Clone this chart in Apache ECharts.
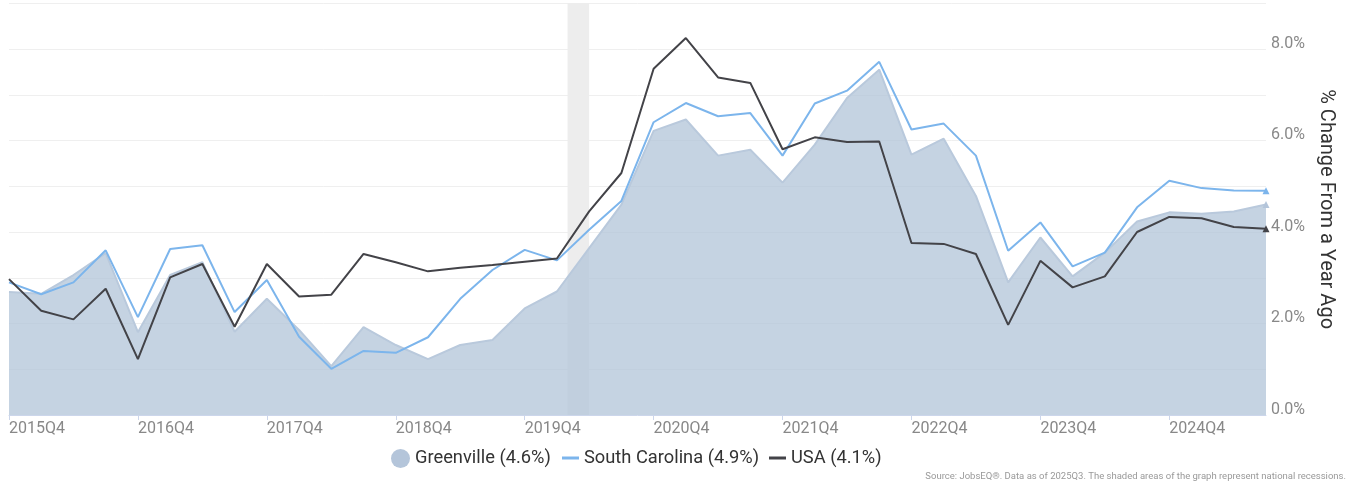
<!DOCTYPE html>
<html>
<head>
<meta charset="utf-8">
<script src="https://cdn.jsdelivr.net/npm/echarts@6/dist/echarts.min.js"></script>
<style>
html,body{margin:0;padding:0;background:#fff;}
#chart{width:1349px;height:482px;}
</style>
</head>
<body>
<div id="chart"></div>
<script>
const quarters = [];
(function(){ let y=2015,q=4; for(let i=0;i<40;i++){ quarters.push(y+'Q'+q); q++; if(q>4){q=1;y++;} } })();

const greenville = [2.69,2.65,3.06,3.54,1.81,3.06,3.34,1.82,2.54,1.86,1.07,1.92,1.53,1.22,1.53,1.64,2.33,2.70,3.65,4.60,6.21,6.46,5.67,5.80,5.08,5.91,6.93,7.55,5.69,6.04,4.79,2.90,3.88,3.03,3.55,4.23,4.43,4.40,4.45,4.60];
const southCarolina = [2.90,2.64,2.90,3.60,2.14,3.63,3.71,2.25,2.95,1.71,1.01,1.40,1.36,1.70,2.54,3.17,3.61,3.38,4.05,4.68,6.40,6.82,6.53,6.60,5.67,6.81,7.09,7.72,6.24,6.37,5.67,3.59,4.21,3.25,3.55,4.54,5.12,4.96,4.91,4.90];
const usa = [2.97,2.28,2.09,2.76,1.22,3.01,3.30,1.93,3.30,2.59,2.63,3.52,3.34,3.14,3.22,3.28,3.35,3.42,4.45,5.29,7.57,8.24,7.38,7.26,5.81,6.07,5.97,5.98,3.76,3.74,3.52,1.97,3.37,2.79,3.03,4.00,4.33,4.30,4.11,4.07];
const seriesNames = ['Greenville (4.6%)','South Carolina (4.9%)','USA (4.1%)'];
const recession = [17.33, 18.0];
const yTicks = [0,2,4,6,8];

const pairs = arr => arr.map((v,i)=>[i,v]);
const lastIdx = quarters.length-1;
const endSym = (v,p)=> p.dataIndex===lastIdx ? 7 : 0;
const labelTicks = quarters.map((q,i)=>i).filter(i=>quarters[i].endsWith('Q4'));
const legText = {color:'#333',fontSize:18.3,fontFamily:'Roboto'};

const chart = echarts.init(document.getElementById('chart'), null, {renderer:'canvas'});
chart.setOption({
  animation:false,
  textStyle:{fontFamily:'Roboto'},
  grid:{left:9,right:83,top:3.3,bottom:67,containLabel:false},
  xAxis:{
    type:'value', min:0, max:lastIdx,
    axisLine:{show:true,lineStyle:{color:'#ccd6eb',width:1}},
    axisTick:{show:true,length:5,lineStyle:{color:'#ccd6eb'},customValues:labelTicks},
    axisLabel:{customValues:labelTicks,formatter:v=>quarters[Math.round(v)]||'',align:'left',color:'#888',fontSize:16,margin:6,fontFamily:'Roboto'},
    splitLine:{show:false}
  },
  yAxis:{
    type:'value', position:'right', min:0, max:9, interval:1,
    axisLine:{show:false}, axisTick:{show:false},
    splitLine:{lineStyle:{color:'#efefef',width:1}},
    axisLabel:{formatter:v=> yTicks.includes(v) ? v.toFixed(1)+'%' : '', color:'#888',fontSize:16,lineHeight:11,margin:5,verticalAlign:'bottom',fontFamily:'Roboto'},
    name:'% Change From a Year Ago', nameLocation:'middle', nameRotate:-90, nameGap:42,
    nameTextStyle:{color:'#333',fontSize:20,fontFamily:'Roboto'}
  },
  legend:[
    {data:[{name:seriesNames[0],icon:'circle'}],left:391,top:449,padding:0,itemWidth:19,itemHeight:19,textStyle:legText},
    {data:[{name:seriesNames[1],icon:'rect'}],left:562,top:449,padding:0,itemWidth:17,itemHeight:3,textStyle:legText},
    {data:[{name:seriesNames[2],icon:'rect'}],left:769,top:449,padding:0,itemWidth:17,itemHeight:3,textStyle:legText}
  ],
  graphic:[{type:'text',right:3,top:472,style:{text:'Source: JobsEQ®. Data as of 2025Q3. The shaded areas of the graph represent national recessions.',fill:'#999',fontSize:9.5,fontFamily:'Roboto'}}],
  series:[
    {type:'line',name:'recession',data:[],z:1,silent:true,
     markArea:{silent:true,itemStyle:{color:'#ededed'},data:[[{xAxis:recession[0]},{xAxis:recession[1]}]]}},
    {type:'line',name:seriesNames[0],data:pairs(greenville),z:2,
     showSymbol:true,showAllSymbol:true,symbol:'triangle',symbolSize:endSym,
     itemStyle:{color:'#b4c5da'},
     lineStyle:{color:'#b9c9dc',width:2},
     areaStyle:{color:'#b2c4d8',opacity:0.75}},
    {type:'line',name:seriesNames[1],data:pairs(southCarolina),z:3,
     showSymbol:true,showAllSymbol:true,symbol:'triangle',symbolSize:endSym,
     itemStyle:{color:'#7cb5ec'},lineStyle:{color:'#7cb5ec',width:2}},
    {type:'line',name:seriesNames[2],data:pairs(usa),z:4,
     showSymbol:true,showAllSymbol:true,symbol:'triangle',symbolSize:endSym,
     itemStyle:{color:'#434348'},lineStyle:{color:'#434348',width:2}}
  ]
});
</script>
</body>
</html>
